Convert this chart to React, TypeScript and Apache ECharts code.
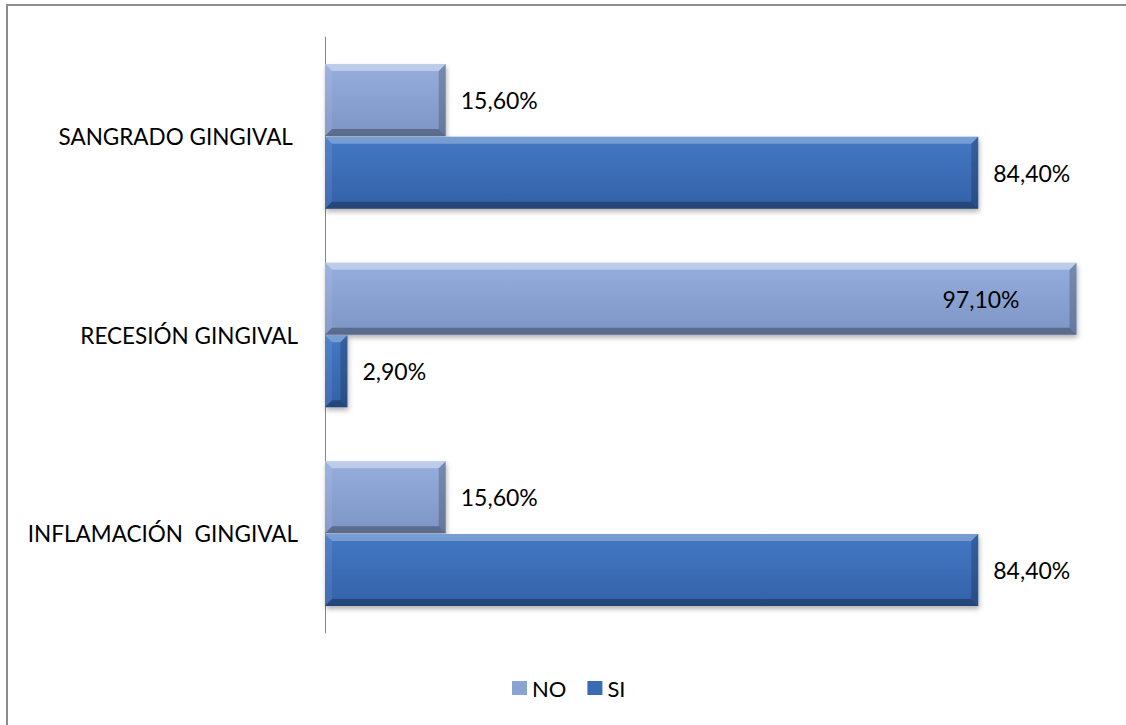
import React, { useEffect, useRef } from "react";
import * as echarts from "echarts";

const categories = ["INFLAMACIÓN  GINGIVAL", "RECESIÓN GINGIVAL", "SANGRADO GINGIVAL "];
const noValues = [15.6, 97.1, 15.6];
const siValues = [84.4, 2.9, 84.4];
const seriesNames = ["NO", "SI"];

const fmt = (v: number) => v.toFixed(2).replace(".", ",") + "%";

const BAR_W = 72;
const GAP = 0.72;
const FONT = "Lato";

const noColor = new echarts.graphic.LinearGradient(0, 0, 0, 1, [
  { offset: 0, color: "#95aedd" },
  { offset: 1, color: "#7d95c4" },
]);
const siColor = new echarts.graphic.LinearGradient(0, 0, 0, 1, [
  { offset: 0, color: "#4479c4" },
  { offset: 1, color: "#3361a8" },
]);

function bevelRenderer(which: number) {
  return (params: any, api: any) => {
    const val = api.value(0);
    const idx = api.value(1);
    const c0 = api.coord([0, idx]);
    const c1 = api.coord([val, idx]);
    const x0 = c0[0];
    const x1 = c1[0];
    const cy = c0[1];
    const total = BAR_W * 2 + GAP;
    const y0 = which === 0 ? cy - total / 2 : cy - total / 2 + BAR_W + GAP;
    const y1 = y0 + BAR_W;
    const b = Math.min(7, (x1 - x0) / 2, (y1 - y0) / 2);
    const light = which === 0 ? "rgba(255,255,255,0.38)" : "rgba(255,255,255,0.28)";
    const dark = "rgba(0,0,0,0.28)";
    return {
      type: "group",
      silent: true,
      children: [
        {
          type: "polygon",
          shape: { points: [[x0, y0], [x1, y0], [x1 - b, y0 + b], [x0 + b, y0 + b]] },
          style: { fill: light },
        },
        {
          type: "polygon",
          shape: { points: [[x0, y0], [x0 + b, y0 + b], [x0 + b, y1 - b], [x0, y1]] },
          style: { fill: "rgba(255,255,255,0.08)" },
        },
        {
          type: "polygon",
          shape: { points: [[x1, y0], [x1, y1], [x1 - b, y1 - b], [x1 - b, y0 + b]] },
          style: { fill: "rgba(0,0,0,0.2)" },
        },
        {
          type: "polygon",
          shape: { points: [[x0, y1], [x1, y1], [x1 - b, y1 - b], [x0 + b, y1 - b]] },
          style: { fill: dark },
        },
      ],
    };
  };
}

export default function App() {
  const ref = useRef<HTMLDivElement>(null);
  useEffect(() => {
    const chart = echarts.init(ref.current!, null, { renderer: "svg" });
    const labelStyle = {
      show: true,
      position: "right" as const,
      distance: 15,
      fontFamily: FONT,
      fontSize: 23,
      color: "#000",
      formatter: (p: any) => fmt(p.value),
    };
    const shadow = {
      shadowColor: "rgba(0,0,0,0.3)",
      shadowBlur: 5,
      shadowOffsetX: 1,
      shadowOffsetY: 3,
    };
    chart.setOption({
      animation: false,
      backgroundColor: "#fff",
      graphic: [
        {
          type: "rect",
          shape: { x: 7, y: 5, width: 1200, height: 800 },
          style: { fill: "none", stroke: "#8c8c8c", lineWidth: 2 },
          silent: true,
        },
      ],
      grid: { left: 325, right: 27, top: 37, bottom: 92 },
      xAxis: {
        type: "value",
        min: 0,
        max: 100,
        show: false,
      },
      yAxis: {
        type: "category",
        data: categories,
        axisLine: { show: true, lineStyle: { color: "#868686", width: 1 } },
        axisTick: { show: false },
        axisLabel: { fontFamily: FONT, fontSize: 22.5, color: "#000", margin: 27 },
        splitLine: { show: false },
      },
      legend: {
        left: 507,
        top: 672,
        itemWidth: 15,
        itemHeight: 14,
        itemGap: 21,
        icon: "rect",
        textStyle: { fontFamily: FONT, fontSize: 22, color: "#000" },
        data: [
          { name: seriesNames[0], itemStyle: { color: "#8aa3d3" } },
          { name: seriesNames[1], itemStyle: { color: "#3a6cb6" } },
        ],
      },
      series: [
        {
          name: seriesNames[0],
          type: "bar",
          barWidth: BAR_W,
          barGap: "1%",
          data: noValues.map((v) =>
            v > 90
              ? { value: v, label: { position: "insideRight", distance: 57 } }
              : v
          ),
          itemStyle: { color: noColor, ...shadow },
          label: labelStyle,
        },
        {
          name: seriesNames[1],
          type: "bar",
          barWidth: BAR_W,
          data: siValues,
          itemStyle: { color: siColor, ...shadow },
          label: labelStyle,
        },
        {
          type: "custom",
          name: "bevel-no",
          silent: true,
          z: 3,
          renderItem: bevelRenderer(0),
          data: noValues.map((v, i) => [v, i]),
          encode: { x: 0, y: 1 },
        },
        {
          type: "custom",
          name: "bevel-si",
          silent: true,
          z: 3,
          renderItem: bevelRenderer(1),
          data: siValues.map((v, i) => [v, i]),
          encode: { x: 0, y: 1 },
        },
      ],
    });
    return () => chart.dispose();
  }, []);
  return (
    <div
      ref={ref}
      style={{ position: "fixed", left: 0, top: 0, width: 1126, height: 725 }}
    />
  );
}
